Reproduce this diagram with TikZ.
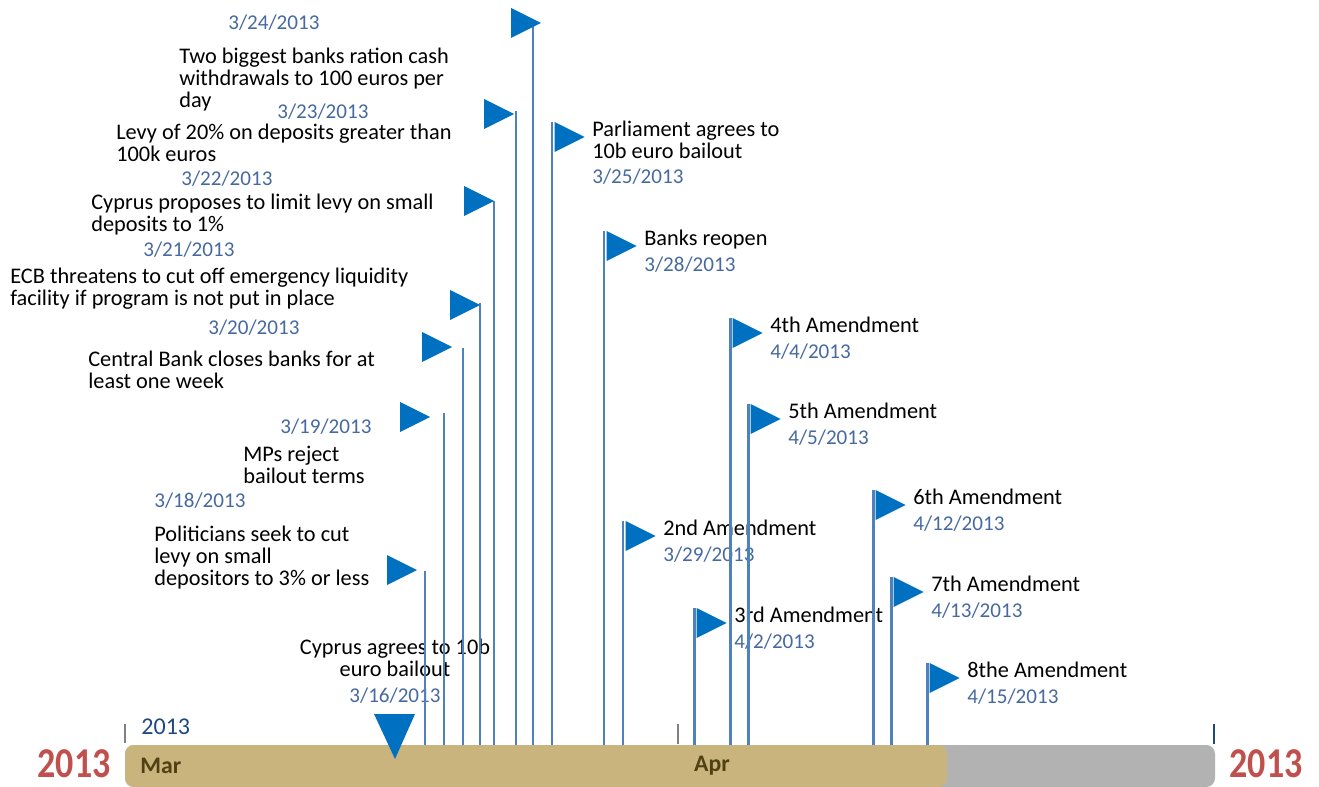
\documentclass[tikz,border=0pt]{standalone}
\usepackage{fontspec}
\setmainfont{Carlito}
\usetikzlibrary{positioning}
\definecolor{flagblue}{RGB}{0,112,192}
\definecolor{poleblue}{RGB}{79,129,189}
\definecolor{dateblue}{RGB}{70,105,160}
\definecolor{bartan}{RGB}{200,180,124}
\definecolor{bargrey}{RGB}{178,178,178}
\definecolor{yearred}{RGB}{192,80,77}
\definecolor{monthtext}{RGB}{80,64,20}
\definecolor{yearblue}{RGB}{31,73,125}
\definecolor{tickgrey}{RGB}{128,128,128}
\newcommand\evtfont{\fontsize{12.7}{12.5}\selectfont}
\newcommand\dtfont{\fontsize{12}{14}\selectfont}
\tikzset{
    pole/.style={draw=poleblue, line width=1.7pt},
    flag/.style={fill=flagblue},
    evt/.style={font=\evtfont, align=left, inner sep=0pt, anchor=north west},
    dt/.style={font=\dtfont, text=dateblue, inner sep=0pt, anchor=west},
    tick/.style={draw=tickgrey, line width=1.4pt},
    bigyear/.style={font=\fontsize{20.5}{24}\selectfont\bfseries, text=yearred, inner sep=0pt},
    month/.style={font=\fontsize{13.5}{16}\selectfont\bfseries, text=monthtext, inner sep=0pt},
}

\begin{document}
\begin{tikzpicture}[x=0.02cm, y=-0.02cm]
    \useasboundingbox (0,0) rectangle (1319,787);
    % timeline bar
    \coordinate (barTop) at (0,745);
    \fill[bargrey, rounded corners=5] (125,745) rectangle (1215,787);
    \fill[bartan, rounded corners=5] (125,745) rectangle (947,787);
    \draw[tick] (125,724) -- (125,743);
    \draw[tick] (678,724) -- (678,744);
    \draw[tick, draw=yearblue] (1214,724) -- (1214,744);
    \node[month, anchor=west] (mar) at (140,766) {Mar};
    \node[month] (apr) at (712,766) {Apr};
    \node[font=\fontsize{13.7}{16}\selectfont, text=yearblue, inner sep=0pt, anchor=west] (yr) at (141,727) {2013};
    \node[bigyear] (yrL) at (74,764) {\scalebox{1}[1.18]{2013}};
    \node[bigyear] (yrR) at (1266,764) {\scalebox{1}[1.18]{2013}};

    % milestone 3/16
    \fill[flag] (374,714) -- (415,714) -- (395,759) -- cycle;
    \node[evt, align=center, anchor=north] (t16) at (395,639) {Cyprus agrees to 10b\\euro bailout};
    \node[dt, anchor=center] (d16) at (395,696) {3/16/2013};

    % left flags
    \foreach \n/\x/\y/\fx/\fy in {18/425/571/387/555, 19/444/413/400/402, 20/463/348/422/332,
        21/480/303/450/290, 22/494/201/464/186, 23/516/111/484/99, 24/533/25/511/8} {
        \coordinate (p\n) at (\x,\y);
        \draw[pole] (p\n) -- (p\n |- barTop);
        \fill[flag] (\fx,\fy) -- ++(30,15) -- ++(-30,15) -- cycle;
    }
    \node[evt] (t24) at (179,48) {Two biggest banks ration cash\\withdrawals to 100 euros per\\day};
    \node[dt] (d24) at (228,23) {3/24/2013};
    \node[evt] (t23) at (116,124) {Levy of 20\% on deposits greater than\\100k euros};
    \node[dt] (d23) at (277,112) {3/23/2013};
    \node[evt] (t22) at (91,194) {Cyprus proposes to limit levy on small\\deposits to 1\%};
    \node[dt] (d22) at (181,179) {3/22/2013};
    \node[evt] (t21) at (10,268) {ECB threatens to cut off emergency liquidity\\facility if program is not put in place};
    \node[dt] (d21) at (143,250) {3/21/2013};
    \node[evt] (t20) at (88,351) {Central Bank closes banks for at\\least one week};
    \node[dt] (d20) at (208,328) {3/20/2013};
    \node[evt] (t19) at (243,446) {MPs reject\\bailout terms};
    \node[dt] (d19) at (280,427) {3/19/2013};
    \node[evt] (t18) at (154,526) {Politicians seek to cut\\levy on small\\depositors to 3\% or less};
    \node[dt] (d18) at (154,501) {3/18/2013};

    % right flags
    \foreach \n/\x/\y/\lbl/\dte in {25/552/122/{Parliament agrees to\\10b euro bailout}/{},
        28/604/231/{Banks reopen}/{3/28/2013}, 29/623/521/{2nd Amendment}/{3/29/2013},
        02/694/608/{3rd Amendment}/{4/2/2013}, 04/730/318/{4th Amendment}/{4/4/2013},
        05/748/404/{5th Amendment}/{4/5/2013}, 12/873/490/{6th Amendment}/{4/12/2013},
        13/891/577/{7th Amendment}/{4/13/2013}, 15/927/663/{8the Amendment}/{4/15/2013}} {
        \coordinate (p\n) at (\x,\y);
        \draw[pole] (p\n) -- (p\n |- barTop);
        \fill[flag] (\x+2.5,\y) -- ++(30,15) -- ++(-30,15) -- cycle;
        \node[evt] (t\n) at (\x+40,\y-1) {\lbl};
        \node[dt] (d\n) at (\x+40,\y+34) {\dte};
    }
    \node[dt] (d25) at (592,177) {3/25/2013};
\end{tikzpicture}
\end{document}
